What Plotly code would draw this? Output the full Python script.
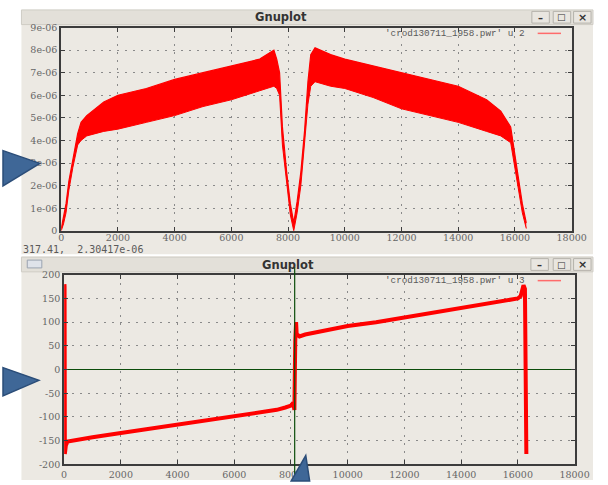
import plotly.graph_objects as go

W, H = 608, 485

# ---------------- data: top window (column 2, power) ----------------
pwr_x = [0, 80, 170, 270, 410, 580, 700, 900, 1500, 2000, 3000, 4000, 5000, 6000,
         7000, 7500, 7600, 7700, 7800, 7950, 8080, 8200, 8320, 8450, 8580, 8700,
         8800, 8950, 9500, 10000, 11000, 12000, 13000, 14000, 15000, 15500, 15850,
         16000, 16150, 16260, 16400]
pwr_upper = [0.1, 0.6, 1.2, 2.2, 3.2, 4.3, 4.8, 5.1, 5.7, 6.0, 6.3, 6.7, 7.0, 7.3,
             7.6, 8.0, 7.6, 7.0, 4.6, 2.6, 1.2, 0.35, 1.3, 2.6, 4.4, 6.6,
             7.8, 8.1, 7.8, 7.6, 7.3, 7.0, 6.7, 6.4, 5.8, 5.3, 4.6,
             3.3, 2.2, 1.2, 0.35]
pwr_lower = [0.0, 0.3, 0.8, 1.8, 2.8, 3.8, 4.0, 4.2, 4.4, 4.5, 4.8, 5.1, 5.5, 5.8,
             6.2, 6.4, 6.3, 6.0, 3.8, 2.0, 0.7, 0.0, 0.8, 2.0, 3.7, 5.6,
             6.4, 6.6, 6.4, 6.3, 5.9, 5.4, 5.1, 4.8, 4.4, 4.2, 3.9,
             2.8, 1.8, 0.8, 0.1]
pwr_scale = 1e-6

# ---------------- data: bottom window (column 3, phase) ----------------
ph_x = [10, 15, 25, 60, 120, 300, 1000, 2000, 3000, 4000, 5000, 6000, 7000, 7500,
        7800, 8000, 8080, 8120, 8150, 8180, 8200, 8300, 8500, 9000, 9500, 10000,
        11000, 12000, 13000, 14000, 15000, 15500, 16000, 16100, 16200, 16250, 16300]
ph_y = [180, 175, -178, -160, -152, -150, -143, -134, -125, -115, -106, -98, -90, -85,
        -80, -76, -70, -85, 60, 100, 75, 70, 74, 80, 86, 92,
        100, 110, 120, 130, 138, 143, 150, 155, 178, 170, -178]

x_ticks = [0, 2000, 4000, 6000, 8000, 10000, 12000, 14000, 16000, 18000]
pwr_ticks = [0, 1e-6, 2e-6, 3e-6, 4e-6, 5e-6, 6e-6, 7e-6, 8e-6, 9e-6]
pwr_tick_text = ["0", "1e-06", "2e-06", "3e-06", "4e-06", "5e-06", "6e-06",
                 "7e-06", "8e-06", "9e-06"]
ph_ticks = [-200, -150, -100, -50, 0, 50, 100, 150, 200]
ruler_x = 8130
legend_top = "'crod130711_1958.pwr' u 2"
legend_bot = "'crod130711_1958.pwr' u 3"
status_text = "317.41,  2.30417e-06"

# ---------------- helpers ----------------
def X(px):
    return px / W

def Y(py):
    return 1 - py / H

WIN = "#ece9e3"
BAR = "#e3e0d9"
RED = "#ff0000"
TXT = "#5a5a5a"
BORDER = "#3c3c3c"
GRID = "#8a8a8a"
TICKFONT = dict(family="DejaVu Serif", size=9.5, color="#666666")

fig = go.Figure()

# top band
fig.add_trace(go.Scatter(x=pwr_x, y=[v * pwr_scale for v in pwr_lower], mode="lines",
                         line=dict(color=RED, width=1), xaxis="x", yaxis="y",
                         showlegend=False, hoverinfo="skip"))
fig.add_trace(go.Scatter(x=pwr_x, y=[v * pwr_scale for v in pwr_upper], mode="lines",
                         line=dict(color=RED, width=1.2), fill="tonexty",
                         fillcolor=RED, xaxis="x", yaxis="y", showlegend=False))
# bottom phase
fig.add_trace(go.Scatter(x=ph_x, y=ph_y, mode="lines",
                         line=dict(color=RED, width=4), xaxis="x2", yaxis="y2",
                         showlegend=False))

shapes = []
# windows
shapes.append(dict(type="rect", xref="paper", yref="paper", x0=X(19), x1=X(608),
                   y0=Y(254), y1=Y(4), fillcolor=WIN, line=dict(width=0), layer="below"))
shapes.append(dict(type="rect", xref="paper", yref="paper", x0=X(19), x1=X(608),
                   y0=Y(485), y1=Y(256), fillcolor=WIN, line=dict(width=0), layer="below"))
# title bars
for (t0, t1) in [(4, 19), (257, 272)]:
    shapes.append(dict(type="rect", xref="paper", yref="paper", x0=X(19), x1=X(608),
                       y0=Y(t1), y1=Y(t0), fillcolor=BAR,
                       line=dict(color="#cfccc5", width=1), layer="below"))
# window buttons
for (cy, cxs) in [(11.5, [554, 576, 597]), (264.5, [553, 576, 597])]:
    for cx in cxs:
        shapes.append(dict(type="rect", xref="paper", yref="paper",
                           x0=X(cx - 9), x1=X(cx + 9), y0=Y(cy + 6), y1=Y(cy - 6),
                           fillcolor="#e9e6e0", line=dict(color="#b5b2ab", width=1),
                           layer="below"))
# bottom window icon
shapes.append(dict(type="rect", xref="paper", yref="paper", x0=X(25), x1=X(40),
                   y0=Y(268), y1=Y(260), fillcolor="#dfe3ea",
                   line=dict(color="#9aa3b0", width=1), layer="below"))
# crosshair ruler in bottom plot
shapes.append(dict(type="line", xref="x2", yref="paper", x0=ruler_x, x1=ruler_x,
                   y0=0, y1=Y(267), line=dict(color="#0b4d0b", width=1.2)))
# legend samples
shapes.append(dict(type="line", xref="paper", yref="paper", x0=X(551), x1=X(575),
                   y0=Y(28), y1=Y(28), line=dict(color="#ff6b6b", width=1.5)))
shapes.append(dict(type="line", xref="paper", yref="paper", x0=X(551), x1=X(575),
                   y0=Y(281), y1=Y(281), line=dict(color="#ff6b6b", width=1.5)))
# blue arrows
ARROW_FILL = "#3f6797"
ARROW_LINE = "#2b4d78"

def poly(pts):
    s = "M " + " L ".join(f"{X(a):.5f},{Y(b):.5f}" for a, b in pts) + " Z"
    return s

for pts in [[(0, 148), (38, 161), (0, 184)],
            [(0, 370), (37, 383), (0, 399)],
            [(297, 486), (312, 460), (316, 486)]]:
    shapes.append(dict(type="path", xref="paper", yref="paper", path=poly(pts),
                       fillcolor=ARROW_FILL, line=dict(color=ARROW_LINE, width=1.5)))

annotations = []
def txt(s, px, py, size, color, family, xanchor="left", bold=False):
    if bold:
        s = "<b>" + s + "</b>"
    annotations.append(dict(text=s, x=X(px), y=Y(py), xref="paper", yref="paper",
                            xanchor=xanchor, yanchor="middle", showarrow=False,
                            font=dict(size=size, color=color, family=family)))

txt("Gnuplot", 286, 11.5, 11.5, "#333333", "DejaVu Sans", "center", True)
txt("Gnuplot", 294, 264.5, 11.5, "#333333", "DejaVu Sans", "center", True)
for (cy, cxs) in [(11.5, [554, 576, 597]), (264.5, [553, 576, 597])]:
    txt("–", cxs[0], cy + 1, 10, "#333333", "DejaVu Sans", "center", True)
    txt("□", cxs[1], cy, 9, "#333333", "DejaVu Sans", "center", True)
    txt("×", cxs[2], cy, 11, "#333333", "DejaVu Sans", "center", True)
txt(legend_top, 539, 28, 9.3, TXT, "Liberation Mono", "right")
txt(legend_bot, 539, 281, 9.3, TXT, "Liberation Mono", "right")
txt(status_text, 19, 249.5, 10, TXT, "DejaVu Sans Mono", "left")

axis_common = dict(showgrid=True, gridcolor=GRID, griddash="2px,6px", gridwidth=1,
                   ticks="inside", ticklen=4, tickcolor=BORDER, tickwidth=1,
                   showline=True, linecolor=BORDER, linewidth=2, mirror="allticks",
                   zeroline=False, tickfont=TICKFONT)

fig.update_layout(
    width=W, height=H, autosize=False, margin=dict(l=0, r=0, t=0, b=0),
    paper_bgcolor="white", plot_bgcolor="rgba(0,0,0,0)",
    showlegend=False, shapes=shapes, annotations=annotations,
    xaxis=dict(domain=[X(60), X(586)], range=[0, 18000], tickvals=x_ticks,
               ticktext=[str(v) for v in x_ticks], anchor="y",
               ticklabelstandoff=-3, **axis_common),
    yaxis=dict(domain=[Y(230), Y(22)], range=[0, 9e-6], tickvals=pwr_ticks,
               ticktext=pwr_tick_text, anchor="x", **axis_common),
    xaxis2=dict(domain=[X(63), X(589)], range=[0, 18000], tickvals=x_ticks,
                ticktext=[str(v) for v in x_ticks], anchor="y2", **axis_common),
    yaxis2=dict(domain=[Y(469), Y(275)], range=[-200, 200], tickvals=ph_ticks,
                ticktext=[str(v) for v in ph_ticks], anchor="x2", **axis_common),
)
fig.update_yaxes(selector=dict(anchor="x2"), zeroline=True,
                 zerolinecolor="#0b4d0b", zerolinewidth=1)

post = ("document.documentElement.style.margin='0';"
        "document.documentElement.style.overflow='hidden';"
        "document.body.style.margin='0';"
        "document.body.style.overflow='hidden';"
        "var gd=document.getElementById('{plot_id}');"
        "gd.style.position='absolute';gd.style.left='0px';gd.style.top='0px';"
        "Plotly.relayout(gd,{width:608,height:485});")

fig.write_html("out.html", config={"displayModeBar": False, "responsive": False},
               post_script=post)
